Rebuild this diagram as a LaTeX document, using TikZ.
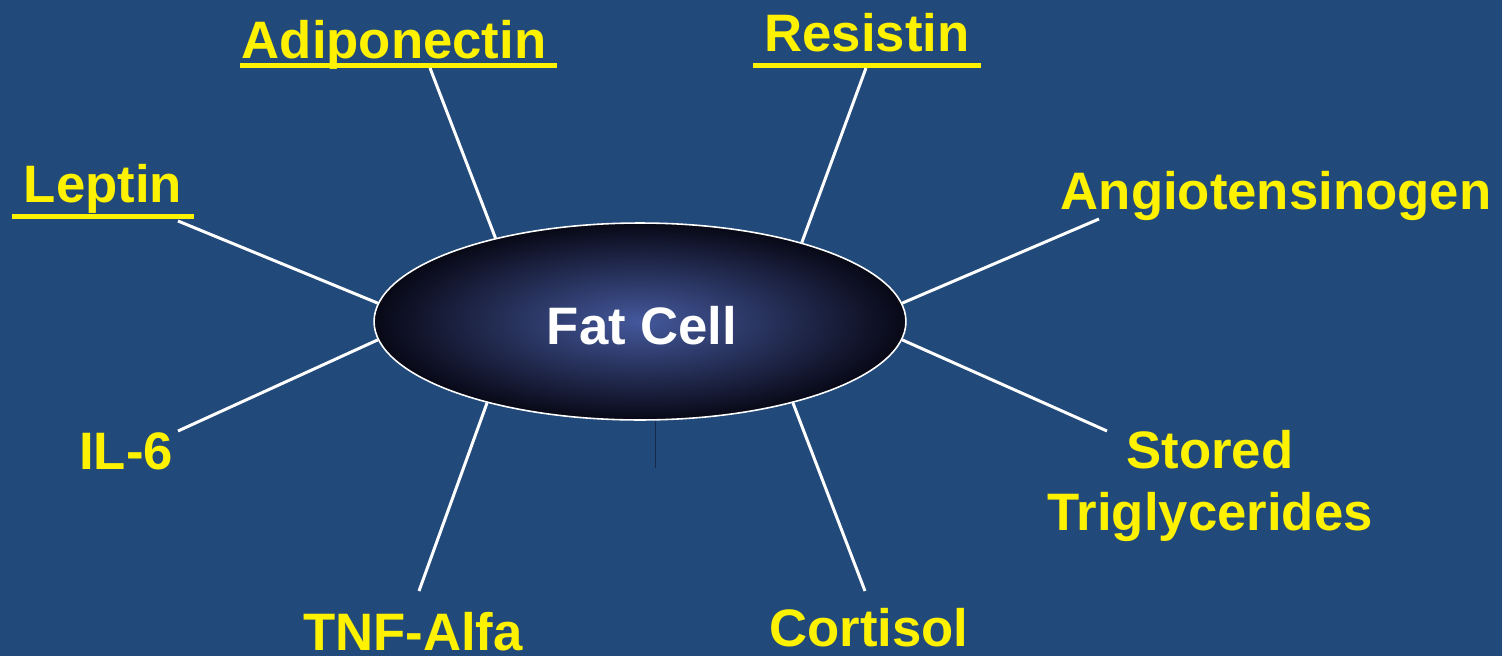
\documentclass[tikz,border=0pt]{standalone}
\usepackage{fontspec}
\setmainfont{Liberation Sans}
\usepackage{tikz}
\usetikzlibrary{shapes.geometric, positioning}
\definecolor{slideblue}{RGB}{33,73,122}
\definecolor{cellcore}{RGB}{68,88,156}
\definecolor{cellrim}{RGB}{8,8,22}
\definecolor{seamblue}{RGB}{22,42,80}

\begin{document}
\begin{tikzpicture}[x=0.02cm, y=-0.02cm,
			cell/.style={ellipse, draw=white, line width=0.9pt, minimum width=10.64cm, minimum height=3.94cm, inner sep=0pt, shading=radial, inner color=cellcore, outer color=cellrim, text=white, font=\bfseries\fontsize{30}{35}\selectfont},
			hormone/.style={anchor=base, inner sep=0pt, text=yellow, align=center, font=\bfseries\fontsize{30}{35}\selectfont},
			link/.style={draw=white, line width=1.7pt},
			uline/.style={draw=yellow, line width=2.8pt}
			]
			
			% Fond
			\fill[slideblue] (0,0) rectangle (1502,656);
			
			% Cellule adipeuse
			\node[cell] (cell) at (640,321.5) {};
			\node[anchor=base, inner sep=0pt, text=white, font=\bfseries\fontsize{30}{35}\selectfont] (cell-text) at (642,344) {Fat Cell};
			
			% Produits secrétés
			\node[hormone] (leptin) at (103,202) {Leptin};
			\node[hormone] (adipo) at (394,58) {Adiponectin};
			\node[hormone] (resistin) at (867,51) {Resistin};
			\node[hormone] (angio) at (1276,209) {Angiotensinogen};
			\node[hormone] (trig) at (1210,530) {Stored\\Triglycerides};
			\node[hormone] (cortisol) at (869,646) {Cortisol};
			\node[hormone] (tnf) at (413,650) {TNF-Alfa};
			\node[hormone] (il6) at (126,469) {IL-6};
			
			% Soulignements
			\foreach \xa/\xb/\yy in {12/194/216.5, 240/557/65.5, 753/981/65.5}
				\draw[uline] (\xa,\yy) -- (\xb,\yy);
			
			% Extrémités libres des traits
			\coordinate (leptin-end) at (178,221);
			\coordinate (adipo-end) at (430,68);
			\coordinate (resistin-end) at (866,68);
			\coordinate (angio-end) at (1099,219);
			\coordinate (trig-end) at (1107,431);
			\coordinate (cortisol-end) at (865,591);
			\coordinate (tnf-end) at (419,591);
			\coordinate (il6-end) at (178,431);
			\coordinate (seam-end) at (655,468);
			
			% Connexions
			\foreach \src/\ang in {leptin-end/176.4, adipo-end/150.6, resistin-end/26.7, angio-end/4.0, trig-end/-4.5, cortisol-end/-28.3, tnf-end/208.8, il6-end/184.7}
				\draw[link] (\src) -- (cell.\ang);
			\draw[seamblue, line width=0.5pt] (cell.south -| seam-end) -- (seam-end);
			
		\end{tikzpicture}
\end{document}
